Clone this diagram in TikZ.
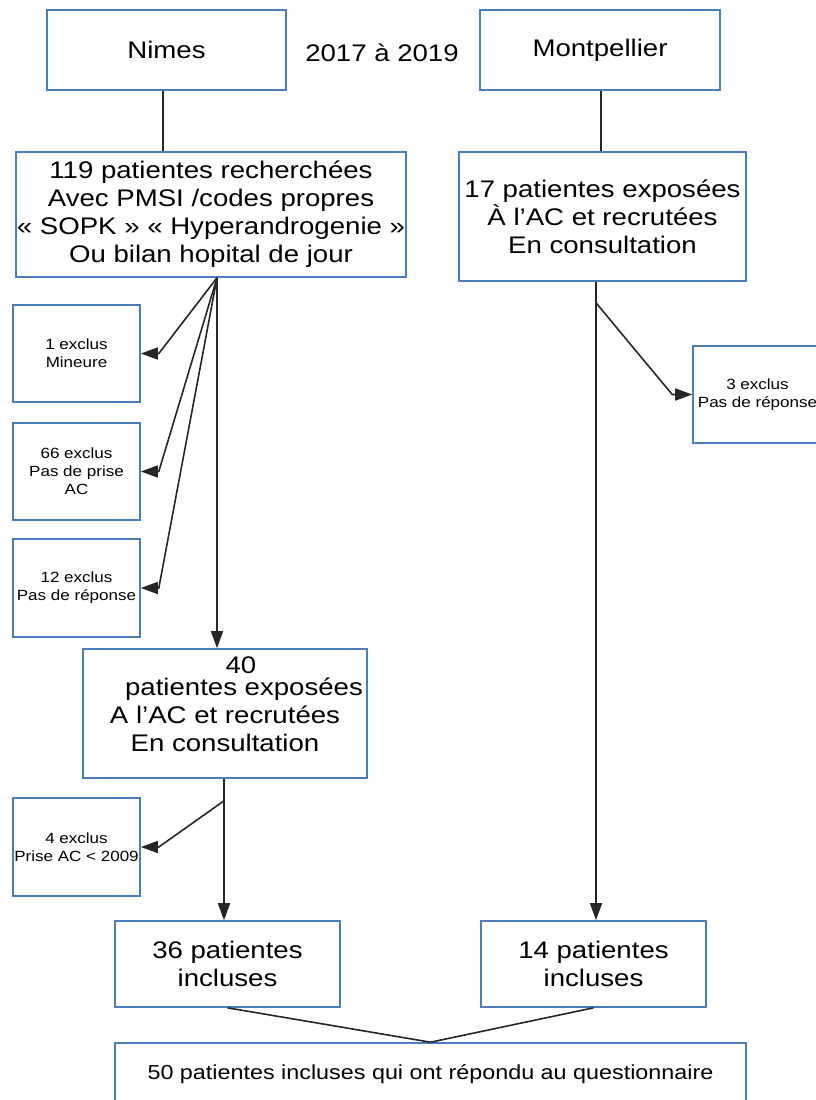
\documentclass[tikz,border=0pt]{standalone}
\usepackage{fontspec}
\setmainfont{Liberation Sans}[FakeStretch=1.15]
\usetikzlibrary{arrows.meta,calc}
\definecolor{boxblue}{RGB}{74,126,187}
\newcommand\fbig{\fontsize{24}{28}\selectfont}
\newcommand\fsmall{\fontsize{14.8}{18}\selectfont}
\newcommand\fmid{\fontsize{20.3}{24}\selectfont}
\tikzset{
  box/.style={draw=boxblue, line width=1.6pt, rectangle, inner sep=0pt, align=center, font=\fbig},
  sbox/.style={box, font=\fsmall, minimum width=127pt, minimum height=97pt},
  txt/.style={inner sep=0pt, align=center, font=\fbig},
  conn/.style={line width=1.6pt, black!85},
  arr/.style={conn, -{Triangle[length=17pt,width=12pt]}}
}
\begin{document}
\begin{tikzpicture}[x=1pt,y=-1pt]
\useasboundingbox (0,0) rectangle (816,1100);
\clip (0,0) rectangle (816,1100);
% top boxes
\node[box, minimum width=239pt, minimum height=80pt] (nimes) at (166.5,50) {Nimes};
\node[txt] (year) at (382,53) {2017 à 2019};
\node[box, minimum width=240pt, minimum height=80pt] (mont) at (600,50) {Montpellier};
% second row
\node[box, minimum width=390pt, minimum height=125pt] (b119) at (211,214.5)
  {119 patientes recherchées\\Avec PMSI /codes propres\\« SOPK » « Hyperandrogenie »\\Ou bilan hopital de jour};
\node[box, minimum width=287pt, minimum height=129pt] (b17) at (602.5,216.5)
  {17 patientes exposées\\À l’AC et recrutées\\En consultation};
% exclusions
\node[sbox] (e1) at (76.5,353.5) {1 exclus\\Mineure};
\node[sbox] (e66) at (76.5,471.5) {66 exclus\\Pas de prise\\AC};
\node[sbox, minimum height=98pt] (e12) at (76.5,588) {12 exclus\\Pas de réponse};
\node[sbox, minimum height=98pt] (e4) at (76.5,847) {4 exclus\\Prise AC < 2009};
\node[sbox, minimum width=129pt] (e3) at (757.5,394.5) {3 exclus\\Pas de réponse};
% 40 box
\node[box, minimum width=284pt, minimum height=129pt] (b40) at (225,713.5) {};
\node[txt, anchor=center] (t40) at (225,704)
  {\hspace*{32pt}40\\[-6pt]\hspace*{38pt}patientes exposées\\A l’AC et recrutées\\En consultation};
% included
\node[box, minimum width=225pt, minimum height=86pt] (b36) at (227.5,964) {36 patientes\\incluses};
\node[box, minimum width=225pt, minimum height=86pt] (b14) at (593.5,964) {14 patientes\\incluses};
\node[box, font=\fmid, minimum width=631pt, minimum height=62pt] (b50) at (430.5,1074)
  {50 patientes incluses qui ont répondu au questionnaire};
% connectors
\draw[conn] ([xshift=-3.5pt]nimes.south) -- ([xshift=-3.5pt]nimes.south |- b119.north);
\draw[conn] ([xshift=1pt]mont.south) -- ([xshift=1pt]mont.south |- b17.north);
\coordinate (o119) at ([xshift=6pt]b119.south);
\draw[arr] (o119) -- (o119 |- b40.north);
\draw[arr] (o119) -- ([xshift=18pt]e1.east) -- (e1.east);
\draw[arr] (o119) -- ([xshift=18pt]e66.east) -- (e66.east);
\draw[arr] (o119) -- ([xshift=18pt]e12.east) -- (e12.east);
\coordinate (o40) at ([xshift=-1pt]b40.south);
\draw[arr] (o40) -- (o40 |- b36.north);
\draw[arr] ([yshift=-22pt]o40) -- ([xshift=18pt]e4.east) -- (e4.east);
\coordinate (o17) at ([xshift=-6.5pt]b17.south);
\draw[arr] (o17) -- (o17 |- b14.north);
\draw[arr] ([yshift=-21pt]o17) -- ([xshift=-20pt]e3.west) -- (e3.west);
\draw[conn] (b36.south) -- (b50.north);
\draw[conn] (b14.south) -- (b50.north);
\end{tikzpicture}
\end{document}
